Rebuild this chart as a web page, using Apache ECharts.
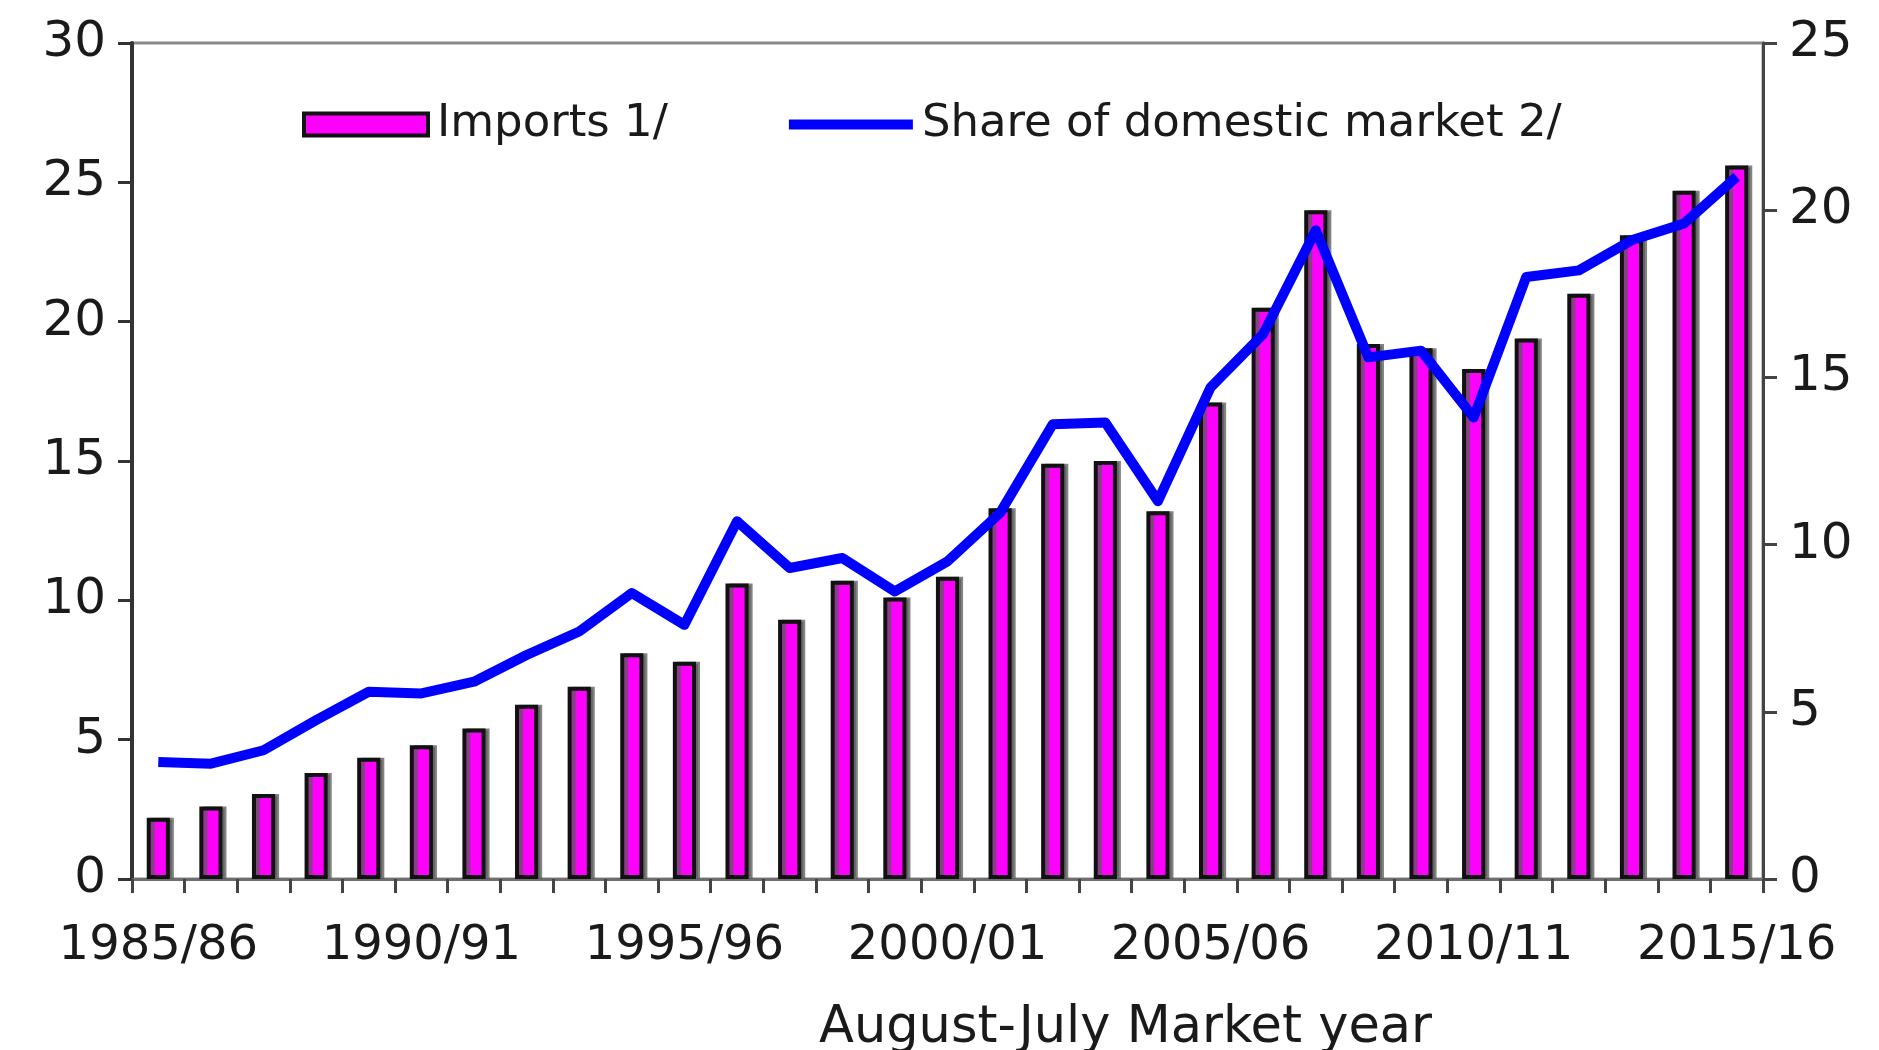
<!DOCTYPE html>
<html>
<head>
<meta charset="utf-8">
<title>Imports and share of domestic market</title>
<script src="https://cdn.jsdelivr.net/npm/echarts@6/dist/echarts.min.js"></script>
<style>
  html, body { margin: 0; padding: 0; background: #ffffff; }
  #chart { width: 1879px; height: 1050px; }
</style>
</head>
<body>
<div id="chart"></div>
<script>
// Market years (August-July)
const marketYears = [
  '1985/86', '1986/87', '1987/88', '1988/89', '1989/90',
  '1990/91', '1991/92', '1992/93', '1993/94', '1994/95',
  '1995/96', '1996/97', '1997/98', '1998/99', '1999/00',
  '2000/01', '2001/02', '2002/03', '2003/04', '2004/05',
  '2005/06', '2006/07', '2007/08', '2008/09', '2009/10',
  '2010/11', '2011/12', '2012/13', '2013/14', '2014/15',
  '2015/16'
];

// Imports 1/ (left axis)
const imports = [
  2.2, 2.6, 3.05, 3.8, 4.35, 4.8, 5.4, 6.25, 6.9, 8.1,
  7.8, 10.6, 9.3, 10.7, 10.1, 10.85, 13.3, 14.9, 15.0, 13.2,
  17.1, 20.5, 24.0, 19.2, 19.05, 18.3, 19.4, 21.0, 23.1, 24.7,
  25.6
];

// Share of domestic market 2/ (right axis)
const domesticShare = [
  3.5, 3.45, 3.85, 4.75, 5.6, 5.55, 5.9, 6.7, 7.4, 8.55,
  7.6, 10.7, 9.3, 9.6, 8.6, 9.5, 10.95, 13.6, 13.65, 11.3,
  14.7, 16.3, 19.4, 15.6, 15.8, 13.8, 18.0, 18.2, 19.1, 19.6,
  21.0
];

const seriesNames = ['Imports 1/', 'Share of domestic market 2/'];
const xAxisTitle = 'August-July Market year';

const FONT = 'DejaVu Sans';
const TEXT = '#1a1a1a';
const BLUE = '#0000ff';

const chart = echarts.init(document.getElementById('chart'), null, { renderer: 'canvas' });

chart.setOption({
  animation: false,
  backgroundColor: '#ffffff',
  textStyle: { fontFamily: FONT, color: TEXT },
  grid: {
    left: 132, right: 116, top: 43, bottom: 171,
    outerBoundsMode: 'none',
    containLabel: false,
    show: true, borderColor: '#8a8a8a', borderWidth: 3,
    backgroundColor: 'transparent'
  },
  legend: {
    left: 297, top: 97,
    itemWidth: 124, itemHeight: 22, itemGap: 116,
    textStyle: { fontFamily: FONT, fontSize: 45, color: TEXT, padding: [0, 0, 0, 4] },
    data: [
      {
        name: seriesNames[0], icon: 'rect',
        itemStyle: { color: '#ff00ff', borderColor: '#111', borderWidth: 4 }
      },
      {
        name: seriesNames[1],
        itemStyle: { color: 'rgba(0,0,0,0)', borderWidth: 0 },
        lineStyle: { color: BLUE, width: 10 }
      }
    ]
  },
  xAxis: {
    type: 'category',
    data: marketYears,
    boundaryGap: true,
    name: xAxisTitle,
    nameLocation: 'middle',
    nameGap: 124,
    nameTextStyle: { fontFamily: FONT, fontSize: 51, color: TEXT, padding: [0, 0, 0, 356] },
    axisLine: { show: true, lineStyle: { color: '#6e6e6e', width: 3 } },
    axisTick: { show: true, interval: 0, inside: false, length: 14, lineStyle: { color: '#444', width: 3 } },
    axisLabel: { interval: 4, margin: 44, fontFamily: FONT, fontSize: 48, color: TEXT },
    splitLine: { show: false }
  },
  yAxis: [
    {
      type: 'value', min: 0, max: 30, interval: 5,
      position: 'left',
      axisLine: { show: true, lineStyle: { color: '#333', width: 4 } },
      axisTick: { show: true, inside: false, length: 14, lineStyle: { color: '#333', width: 3 } },
      axisLabel: { margin: 26, fontFamily: FONT, fontSize: 50, color: TEXT },
      splitLine: { show: false }
    },
    {
      type: 'value', min: 0, max: 25, interval: 5,
      position: 'right',
      axisLine: { show: true, lineStyle: { color: '#444', width: 3 } },
      axisTick: { show: true, inside: false, length: 14, lineStyle: { color: '#444', width: 3 } },
      axisLabel: { margin: 26, fontFamily: FONT, fontSize: 50, color: TEXT },
      splitLine: { show: false }
    }
  ],
  series: [
    {
      name: seriesNames[0],
      type: 'bar',
      yAxisIndex: 0,
      data: imports,
      barWidth: '44%',
      itemStyle: {
        color: '#ff00ff',
        borderColor: '#111',
        borderWidth: 4,
        shadowColor: 'rgba(90,90,90,0.75)',
        shadowOffsetX: 4,
        shadowOffsetY: 0,
        shadowBlur: 0
      },
      z: 2
    },
    {
      name: seriesNames[1],
      type: 'line',
      yAxisIndex: 1,
      data: domesticShare,
      symbol: 'none',
      showSymbol: false,
      smooth: false,
      lineStyle: { color: BLUE, width: 10, join: 'round', cap: 'butt' },
      itemStyle: { color: BLUE },
      z: 5
    }
  ]
});
</script>
</body>
</html>
